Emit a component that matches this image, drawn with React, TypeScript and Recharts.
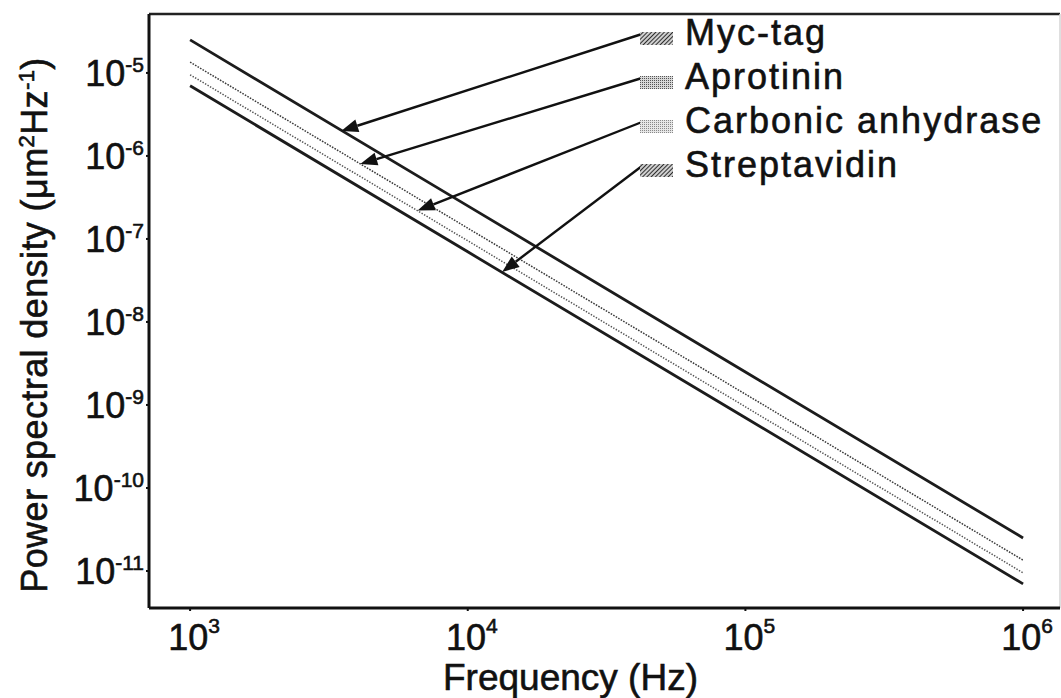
import { LineChart, Line, XAxis, YAxis, ReferenceLine, ReferenceDot } from "recharts";

// frequency grid (Hz) and PSD values (um^2 Hz^-1)
const FREQS = [1e3, 1e4, 1e5, 1e6];
const MYC_TAG = [2.5e-5, 2.5e-7, 2.5e-9, 2.5e-11];
const APROTININ = [1.35e-5, 1.35e-7, 1.35e-9, 1.35e-11];
const CARBONIC_ANHYDRASE = [9.5e-6, 9.5e-8, 9.5e-10, 9.5e-12];
const STREPTAVIDIN = [7e-6, 7e-8, 7e-10, 7e-12];

const SERIES_NAMES = ["Myc-tag", "Aprotinin", "Carbonic anhydrase", "Streptavidin"];

// where each legend arrow touches its curve
const ARROW_FREQS = [3.5e3, 4.1e3, 6.6e3, 1.33e4];
const ARROW_PSD = [2.0e-6, 8.0e-7, 2.2e-7, 4.0e-8];

const X_TICKS = [1e3, 1e4, 1e5, 1e6];
const Y_TICKS = [1e-11, 1e-10, 1e-9, 1e-8, 1e-7, 1e-6, 1e-5];
const X_DOMAIN = [Math.pow(10, 2.852), Math.pow(10, 6.133)];
const Y_DOMAIN = [Math.pow(10, -11.446), Math.pow(10, -4.29)];

const ROWS = FREQS.map((freq, i) => ({
  freq,
  mycTag: MYC_TAG[i],
  aprotinin: APROTININ[i],
  carbonic: CARBONIC_ANHYDRASE[i],
  streptavidin: STREPTAVIDIN[i],
}));

const FONT = "'Liberation Sans', Arial, Helvetica, sans-serif";
const INK = "#111";
// scanned figure: glyphs look a little heavier than plain Arial
const TEXT_STYLE = { stroke: INK, strokeWidth: 0.6 };

const SERIES = [
  { key: "mycTag", stroke: "#1c1c1c", width: 2.8, dash: undefined, swatch: "url(#hatchDark)" },
  { key: "aprotinin", stroke: "#3c3c3c", width: 1.5, dash: "1.6 1.3", swatch: "url(#dotMid)" },
  { key: "carbonic", stroke: "#555", width: 1.5, dash: "1.4 1.5", swatch: "url(#dotLight)" },
  { key: "streptavidin", stroke: "#1c1c1c", width: 2.8, dash: undefined, swatch: "url(#hatchDark)" },
];

// legend block layout (svg px)
const LEG_SWATCH_X = 640;
const LEG_SWATCH_W = 33;
const LEG_SWATCH_H = 13;
const LEG_TEXT_X = 685;
const LEG_BASE_Y = 45;
const LEG_STEP = 44;

function FreqTick({ x, y, payload }: any) {
  const exp = Math.round(Math.log10(payload.value));
  return (
    <text x={x + 4} y={y + 38} textAnchor="middle" fontSize={36} fontFamily={FONT} fill={INK} style={TEXT_STYLE}>
      10
      <tspan dy={-17} fontSize={21}>{exp}</tspan>
    </text>
  );
}

function PsdTick({ x, y, payload }: any) {
  const exp = Math.round(Math.log10(payload.value));
  return (
    <text x={x - 1} y={y + 13} textAnchor="end" fontSize={36} fontFamily={FONT} fill={INK} style={TEXT_STYLE}>
      10
      <tspan dy={-14} fontSize={21}>{`-${-exp}`}</tspan>
    </text>
  );
}

function annotation(i: number) {
  return (props: any) => {
    const { cx, cy } = props;
    const base = LEG_BASE_Y + i * LEG_STEP;
    const tx = LEG_SWATCH_X + 2;
    const ty = base - LEG_SWATCH_H + 2;
    const dx = cx - tx;
    const dy = cy - ty;
    const len = Math.hypot(dx, dy);
    const ux = dx / len;
    const uy = dy / len;
    const head = 17;
    const half = 6.5;
    const bx = cx - ux * head;
    const by = cy - uy * head;
    const pts = `${cx},${cy} ${bx - uy * half},${by + ux * half} ${bx + uy * half},${by - ux * half}`;
    return (
      <g>
        <line x1={tx} y1={ty} x2={bx} y2={by} stroke={INK} strokeWidth={2.4} />
        <polygon points={pts} fill={INK} />
        <rect x={LEG_SWATCH_X} y={base - LEG_SWATCH_H} width={LEG_SWATCH_W} height={LEG_SWATCH_H} fill={SERIES[i].swatch} />
        <text x={LEG_TEXT_X} y={base} fontSize={36} fontFamily={FONT} fill={INK} letterSpacing={2} style={TEXT_STYLE}>
          {SERIES_NAMES[i]}
        </text>
      </g>
    );
  };
}

export default function App() {
  return (
    <div style={{ width: 1061, height: 698, background: "#fff" }}>
      <style>{"body{margin:0;background:#fff}"}</style>
      <LineChart width={1061} height={698} data={ROWS} margin={{ top: 14, right: 1, bottom: 0, left: 0 }}>
        <defs>
          <pattern id="hatchDark" width="3" height="3" patternUnits="userSpaceOnUse" patternTransform="rotate(45)">
            <rect width="3" height="3" fill="#cfcfcf" />
            <line x1="0" y1="0" x2="0" y2="3" stroke="#1e1e1e" strokeWidth="1.8" />
          </pattern>
          <pattern id="dotMid" width="2" height="2" patternUnits="userSpaceOnUse">
            <rect width="2" height="2" fill="#d8d8d8" />
            <rect width="1" height="1" fill="#555" />
          </pattern>
          <pattern id="dotLight" width="2" height="2" patternUnits="userSpaceOnUse">
            <rect width="2" height="2" fill="#e6e6e6" />
            <rect width="1" height="1" fill="#888" />
          </pattern>
        </defs>
        <XAxis
          dataKey="freq"
          type="number"
          scale="log"
          domain={X_DOMAIN}
          allowDataOverflow
          ticks={X_TICKS}
          tick={<FreqTick />}
          tickSize={3}
          tickMargin={1}
          height={90}
          axisLine={{ stroke: INK, strokeWidth: 3 }}
          tickLine={{ stroke: INK, strokeWidth: 2 }}
          label={{
            content: ({ viewBox }: any) => (
              <text x={viewBox.x + viewBox.width / 2 - 34} y={690} textAnchor="middle" fontSize={37} fontFamily={FONT} fill={INK} style={TEXT_STYLE}>
                Frequency (Hz)
              </text>
            ),
          }}
        />
        <YAxis
          type="number"
          scale="log"
          domain={Y_DOMAIN}
          allowDataOverflow
          ticks={Y_TICKS}
          tick={<PsdTick />}
          tickSize={3}
          tickMargin={1}
          width={149}
          axisLine={{ stroke: INK, strokeWidth: 3 }}
          tickLine={{ stroke: INK, strokeWidth: 2 }}
          label={{
            content: ({ viewBox }: any) => {
              const cy = viewBox.y + viewBox.height / 2 + 14;
              return (
                <text x={47} y={cy} transform={`rotate(-90 47 ${cy})`} textAnchor="middle" fontSize={36} fontFamily={FONT} fill={INK} letterSpacing={0.4} style={TEXT_STYLE}>
                  Power spectral density (μm
                  <tspan dy={-13} fontSize={22}>2</tspan>
                  <tspan dy={13}>Hz</tspan>
                  <tspan dy={-13} fontSize={22}>-1</tspan>
                  <tspan dy={13}>)</tspan>
                </text>
              );
            },
          }}
        />
        <ReferenceLine y={Y_DOMAIN[1]} stroke="#222" strokeWidth={2.5} ifOverflow="visible" />
        <ReferenceLine x={X_DOMAIN[1]} stroke="#d4d4d4" strokeWidth={1.5} ifOverflow="visible" />
        {SERIES.map((s) => (
          <Line
            key={s.key}
            dataKey={s.key}
            stroke={s.stroke}
            strokeWidth={s.width}
            strokeDasharray={s.dash}
            dot={false}
            activeDot={false}
            isAnimationActive={false}
          />
        ))}
        {SERIES.map((s, i) => (
          <ReferenceDot key={`arrow-${s.key}`} x={ARROW_FREQS[i]} y={ARROW_PSD[i]} r={0} shape={annotation(i)} ifOverflow="visible" />
        ))}
      </LineChart>
    </div>
  );
}
